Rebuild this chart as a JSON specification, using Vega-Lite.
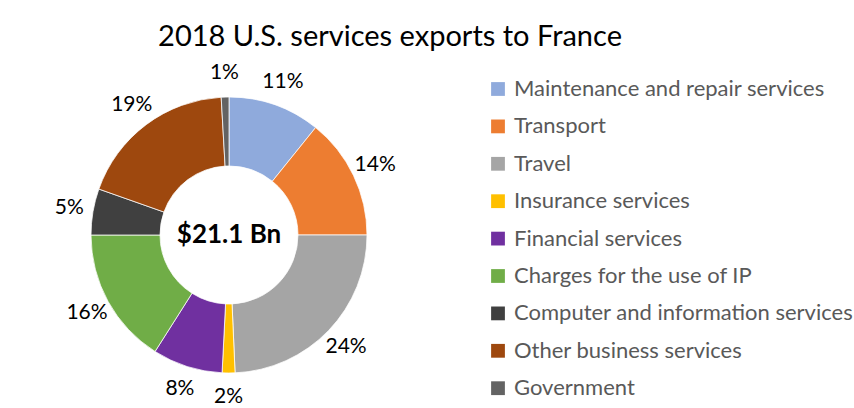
{
  "$schema": "https://vega.github.io/schema/vega-lite/v6.json",
  "autosize": {"type": "none"},
  "width": 400,
  "height": 342,
  "padding": {"left": 29, "top": 64, "right": 425, "bottom": 2},
  "background": "white",
  "title": {
    "text": "2018 U.S. services exports to France",
    "font": "Lato",
    "fontSize": 29,
    "fontWeight": "normal",
    "color": "#000000",
    "anchor": "middle",
    "dx": 161,
    "offset": 10
  },
  "config": {"view": {"stroke": null}},
  "data": {
    "values": [
      {"category": "Maintenance and repair services", "share": 10.8, "label": "11%", "order": 1},
      {"category": "Transport", "share": 14.2, "label": "14%", "order": 2},
      {"category": "Travel", "share": 24.3, "label": "24%", "order": 3},
      {"category": "Insurance services", "share": 1.5, "label": "2%", "order": 4},
      {"category": "Financial services", "share": 8.2, "label": "8%", "order": 5},
      {"category": "Charges for the use of IP", "share": 16.0, "label": "16%", "order": 6},
      {"category": "Computer and information services", "share": 5.4, "label": "5%", "order": 7},
      {"category": "Other business services", "share": 18.7, "label": "19%", "order": 8},
      {"category": "Government", "share": 0.9, "label": "1%", "order": 9}
    ]
  },
  "encoding": {
    "theta": {"field": "share", "type": "quantitative", "stack": true},
    "order": {"field": "order", "type": "quantitative"},
    "color": {
      "field": "category",
      "type": "nominal",
      "sort": null,
      "scale": {
        "domain": ["Maintenance and repair services", "Transport", "Travel", "Insurance services", "Financial services", "Charges for the use of IP", "Computer and information services", "Other business services", "Government"],
        "range": ["#8FAADC", "#ED7D31", "#A5A5A5", "#FFC000", "#7030A0", "#70AD47", "#404040", "#9E480E", "#636363"]
      },
      "legend": {
        "title": null,
        "orient": "none",
        "legendX": 458,
        "legendY": 14,
        "padding": 0,
        "symbolType": "square",
        "symbolSize": 190,
        "symbolStrokeWidth": 0,
        "labelFont": "Lato",
        "labelFontSize": 22,
        "labelColor": "#595959",
        "labelOffset": 5,
        "rowPadding": 15.4,
        "labelLimit": 400
      }
    }
  },
  "layer": [
    {
      "mark": {"type": "arc", "innerRadius": 69, "outerRadius": 138, "stroke": "white", "strokeWidth": 0.75}
    },
    {
      "mark": {"type": "text", "radius": 162, "font": "Lato", "fontSize": 21, "color": "#000000"},
      "encoding": {
        "text": {"field": "label", "type": "nominal"},
        "color": {"value": "#000000"}
      }
    },
    {
      "data": {"values": [{"total": "$21.1 Bn"}]},
      "mark": {"type": "text", "font": "Lato", "fontSize": 26, "fontWeight": "bold", "color": "#000000"},
      "encoding": {
        "text": {"field": "total", "type": "nominal"},
        "theta": {"value": 0},
        "radius": {"value": 0},
        "order": null,
        "color": {"value": "#000000"}
      }
    }
  ]
}
